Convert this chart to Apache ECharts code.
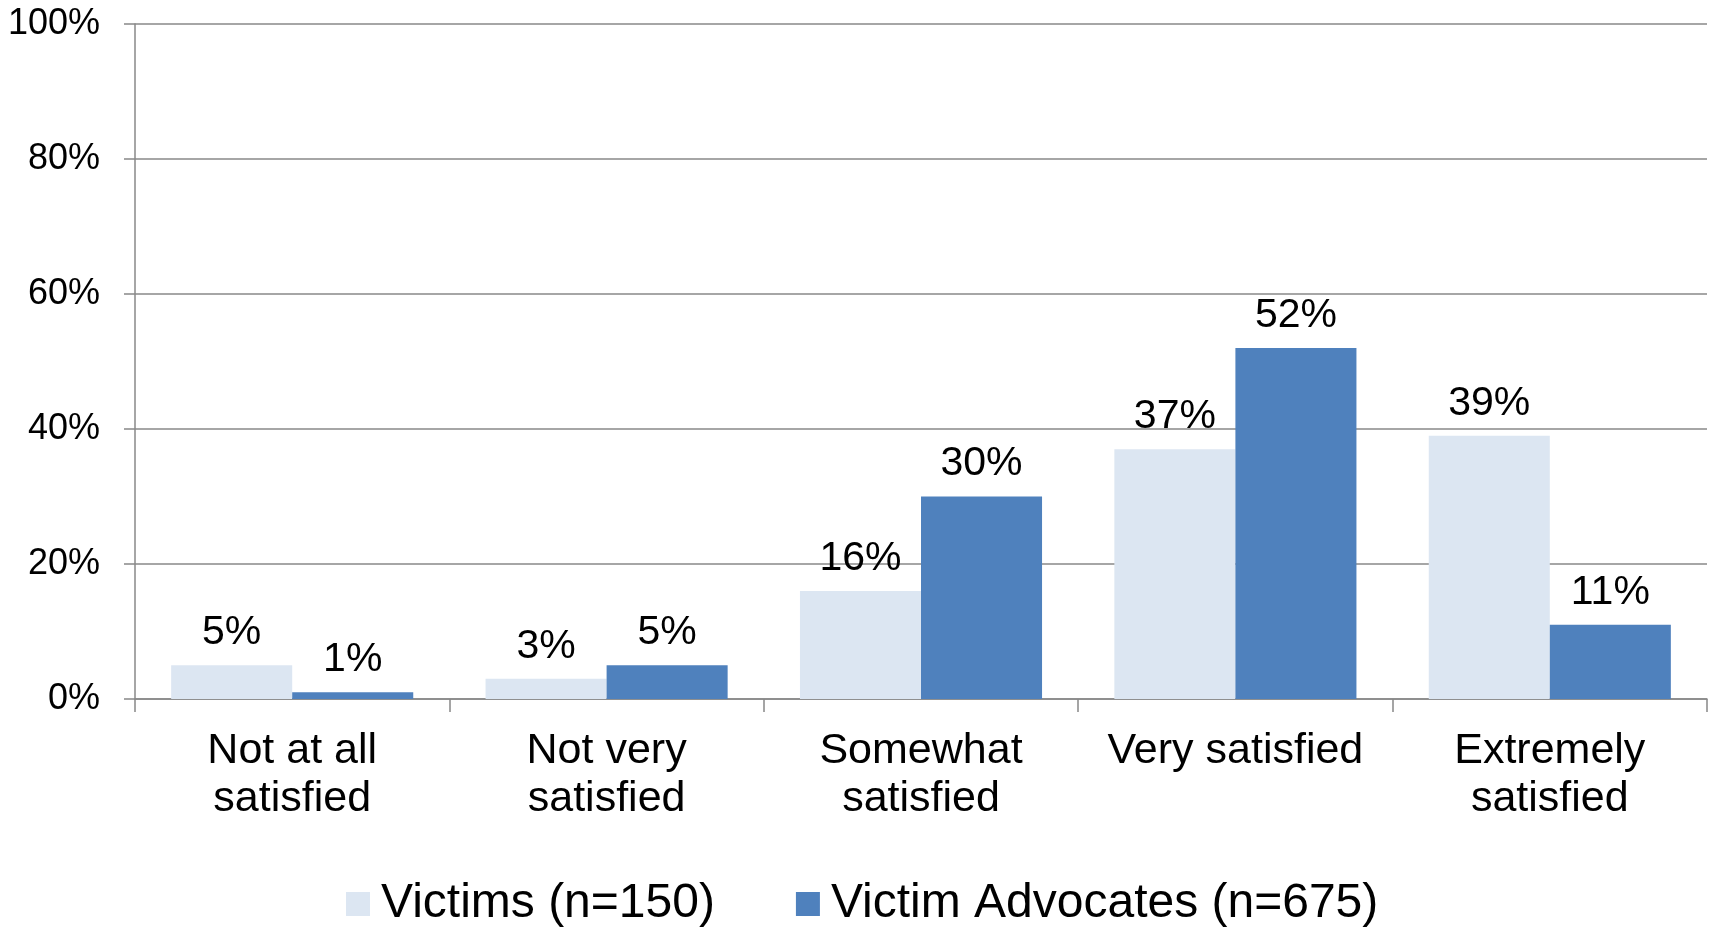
<!DOCTYPE html>
<html>
<head>
<meta charset="utf-8">
<title>Satisfaction: Victims vs Victim Advocates</title>
<script src="https://cdn.jsdelivr.net/npm/echarts@6/dist/echarts.min.js"></script>
<style>
  html, body { margin: 0; padding: 0; background: #ffffff; }
  #chart { width: 1711px; height: 927px; }
</style>
</head>
<body>
<div id="chart"></div>
<script>
// Response categories (x axis)
const categories = [
  'Not at all\nsatisfied',
  'Not very\nsatisfied',
  'Somewhat\nsatisfied',
  'Very satisfied',
  'Extremely\nsatisfied'
];

// Percent of respondents in each category
const victims = [5, 3, 16, 37, 39];
const advocates = [1, 5, 30, 52, 11];

const seriesNames = ['Victims (n=150)', 'Victim Advocates (n=675)'];

// Y axis ticks: 0% .. 100% every 20
const yMin = 0;
const yMax = 100;
const yStep = 20;

const FONT = '"Liberation Sans", Arial, sans-serif';
const AXIS_GRAY = '#888888';

const chart = echarts.init(document.getElementById('chart'), null, { renderer: 'canvas' });

const labelStyle = {
  show: true,
  position: 'top',
  distance: 12,
  formatter: '{c}%',
  color: '#000000',
  fontFamily: FONT,
  fontSize: 41
};

chart.setOption({
  animation: false,
  backgroundColor: '#ffffff',
  grid: { left: 135, right: 4, top: 24, bottom: 228, containLabel: false },
  legend: {
    data: seriesNames,
    left: 341,
    top: 875,
    icon: 'rect',
    itemWidth: 24,
    itemHeight: 24,
    itemGap: 81,
    textStyle: {
      color: '#000000',
      fontFamily: FONT,
      fontSize: 48,
      padding: [0, 0, 0, 6]
    }
  },
  xAxis: {
    type: 'category',
    data: categories,
    boundaryGap: true,
    axisLine: { show: true, lineStyle: { color: AXIS_GRAY, width: 1.5 } },
    axisTick: { show: true, inside: false, length: 13, alignWithLabel: false, lineStyle: { color: AXIS_GRAY, width: 1.5 } },
    axisLabel: {
      color: '#000000',
      fontFamily: FONT,
      fontSize: 43,
      lineHeight: 48,
      margin: 28,
      interval: 0
    },
    splitLine: { show: false }
  },
  yAxis: {
    type: 'value',
    min: yMin,
    max: yMax,
    interval: yStep,
    axisLine: { show: true, lineStyle: { color: AXIS_GRAY, width: 1.5 } },
    axisTick: { show: true, inside: false, length: 11, lineStyle: { color: AXIS_GRAY, width: 1.5 } },
    axisLabel: {
      formatter: '{value}%',
      color: '#000000',
      fontFamily: FONT,
      fontSize: 36,
      margin: 35
    },
    splitLine: { show: true, lineStyle: { color: AXIS_GRAY, width: 1.5 } }
  },
  series: [
    {
      name: seriesNames[0],
      type: 'bar',
      data: victims,
      barGap: '0%',
      barCategoryGap: '23%',
      itemStyle: { color: '#DCE6F2' },
      label: labelStyle
    },
    {
      name: seriesNames[1],
      type: 'bar',
      data: advocates,
      barGap: '0%',
      barCategoryGap: '23%',
      itemStyle: { color: '#4F81BD' },
      label: labelStyle
    }
  ]
});
</script>
</body>
</html>
